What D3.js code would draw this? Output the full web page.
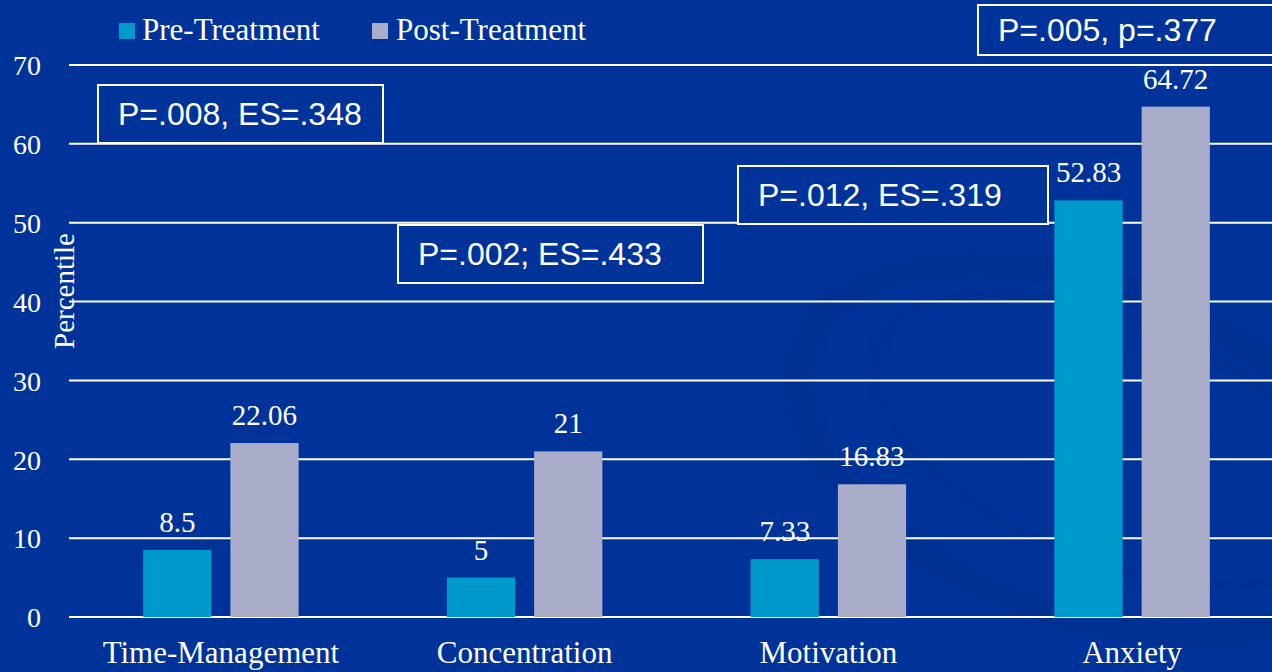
<!DOCTYPE html>
<html>
<head>
<meta charset="utf-8">
<script src="https://cdn.jsdelivr.net/npm/d3@7"></script>
<style>
  html, body { margin: 0; padding: 0; background: #003399; overflow: hidden; }
  svg { display: block; }
</style>
</head>
<body>
<svg id="chart" width="1272" height="672"></svg>
<script>
// Study scores by category, before and after treatment (percentiles)
const categories = ["Time-Management", "Concentration", "Motivation", "Anxiety"];
const seriesNames = ["Pre-Treatment", "Post-Treatment"];
const preTreatment = [8.5, 5, 7.33, 52.83];
const postTreatment = [22.06, 21, 16.83, 64.72];
const yTicks = [0, 10, 20, 30, 40, 50, 60, 70];
const statNotes = ["P=.008, ES=.348", "P=.002; ES=.433", "P=.012, ES=.319", "P=.005, p=.377"];

const width = 1272, height = 672;
const bg = "#003399";
const colors = { "Pre-Treatment": "#0099cc", "Post-Treatment": "#aaadc9" };
const serif = "'Liberation Serif', 'Times New Roman', serif";
const sans = "'Liberation Sans', Arial, sans-serif";

const svg = d3.select("#chart");

// background
svg.append("rect").attr("width", width).attr("height", height).attr("fill", bg);

// faint decorative swirl in the lower right of the slide
const deco = svg.append("g").attr("fill", "none");
deco.append("ellipse")
  .attr("cx", 1085).attr("cy", 450).attr("rx", 300).attr("ry", 165)
  .attr("transform", "rotate(20 1085 450)")
  .attr("stroke", "#002a85").attr("stroke-opacity", 0.35).attr("stroke-width", 26);
deco.append("ellipse")
  .attr("cx", 1110).attr("cy", 440).attr("rx", 250).attr("ry", 120)
  .attr("transform", "rotate(22 1110 440)")
  .attr("stroke", "#002a85").attr("stroke-opacity", 0.28).attr("stroke-width", 8);

// scales
const x0 = d3.scaleBand().domain(categories).range([69, 1284]).padding(0);
const x1 = d3.scaleBand().domain(seriesNames).range([0, x0.bandwidth()])
  .paddingInner(0.218).paddingOuter(0.85);
const y = d3.scaleLinear().domain([0, 70]).range([617, 65]);

// horizontal gridlines
svg.append("g")
  .selectAll("line").data(yTicks).join("line")
  .attr("x1", 69).attr("x2", width)
  .attr("y1", d => y(d)).attr("y2", d => y(d))
  .attr("stroke", "#ffffff").attr("stroke-width", 2);

// y axis tick labels
const yAxis = d3.axisLeft(y).tickValues(yTicks).tickSize(0).tickPadding(0);
const yAxisG = svg.append("g").attr("transform", "translate(41,0)").call(yAxis);
yAxisG.select(".domain").remove();
yAxisG.selectAll("text")
  .attr("fill", "#ffffff").attr("font-family", serif).attr("font-size", 28)
  .attr("dy", "0.35em");

// y axis title
svg.append("text")
  .attr("transform", "translate(74,291) rotate(-90)")
  .attr("text-anchor", "middle")
  .attr("fill", "#ffffff").attr("font-family", serif).attr("font-size", 29)
  .text("Percentile");

// x axis category labels
const xAxis = d3.axisBottom(x0).tickSize(0).tickPadding(0);
const xAxisG = svg.append("g").attr("transform", "translate(0,663)").call(xAxis);
xAxisG.select(".domain").remove();
xAxisG.selectAll("text")
  .attr("fill", "#ffffff").attr("font-family", serif).attr("font-size", 31)
  .attr("dy", 0);

// bars
const rows = categories.map((c, i) => ({
  category: c,
  values: [
    { series: "Pre-Treatment", value: preTreatment[i] },
    { series: "Post-Treatment", value: postTreatment[i] }
  ]
}));

const groups = svg.append("g").selectAll("g").data(rows).join("g")
  .attr("transform", d => `translate(${x0(d.category)},0)`);

groups.selectAll("rect").data(d => d.values).join("rect")
  .attr("x", d => x1(d.series))
  .attr("width", x1.bandwidth())
  .attr("y", d => y(d.value))
  .attr("height", d => y(0) - y(d.value))
  .attr("fill", d => colors[d.series]);

// value labels above each bar
groups.selectAll("text").data(d => d.values).join("text")
  .attr("x", d => x1(d.series) + x1.bandwidth() / 2)
  .attr("y", d => y(d.value) - 18)
  .attr("text-anchor", "middle")
  .attr("fill", "#ffffff").attr("font-family", serif).attr("font-size", 29)
  .text(d => d.value);

// legend
const legendPos = [{ x: 119, tx: 142 }, { x: 372, tx: 396 }];
const legend = svg.append("g").selectAll("g").data(seriesNames).join("g");
legend.append("rect")
  .attr("x", (d, i) => legendPos[i].x).attr("y", 23)
  .attr("width", 16).attr("height", 16)
  .attr("fill", d => colors[d]);
legend.append("text")
  .attr("x", (d, i) => legendPos[i].tx).attr("y", 40)
  .attr("fill", "#ffffff").attr("font-family", serif).attr("font-size", 31)
  .text(d => d);

// significance / effect size notes in outlined boxes
const noteBoxes = [
  { x: 98, y: 85, w: 285, h: 58 },
  { x: 398, y: 225, w: 305, h: 58 },
  { x: 738, y: 166, w: 310, h: 58 },
  { x: 978, y: 5, w: 300, h: 50 }
];
const notes = svg.append("g").selectAll("g").data(statNotes).join("g")
  .attr("transform", (d, i) => `translate(${noteBoxes[i].x},${noteBoxes[i].y})`);
notes.append("rect")
  .attr("width", (d, i) => noteBoxes[i].w)
  .attr("height", (d, i) => noteBoxes[i].h)
  .attr("fill", bg).attr("stroke", "#ffffff").attr("stroke-width", 2);
notes.append("text")
  .attr("x", 20)
  .attr("y", (d, i) => noteBoxes[i].h / 2 + 11)
  .attr("fill", "#ffffff").attr("font-family", sans).attr("font-size", 32)
  .text(d => d);
</script>
</body>
</html>
